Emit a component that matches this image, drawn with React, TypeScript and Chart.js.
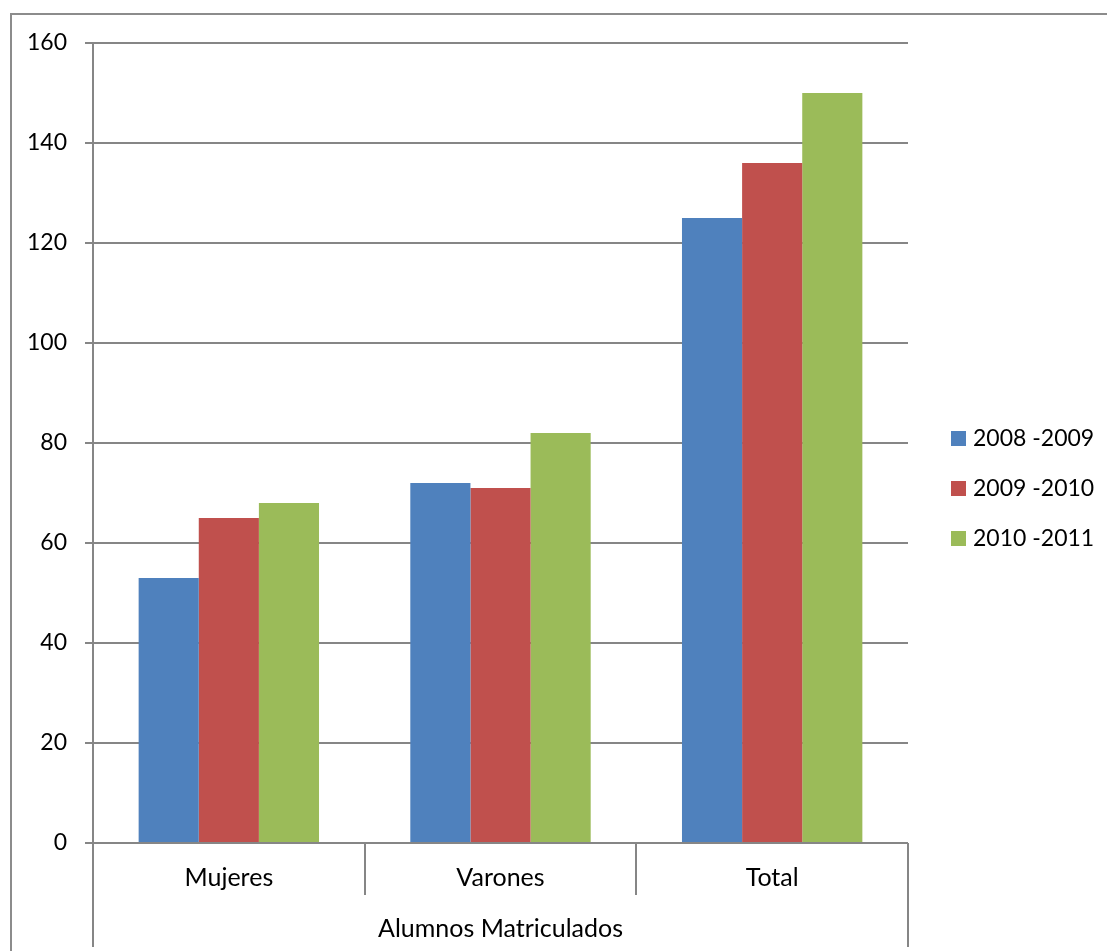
import React, { useEffect, useRef } from 'react';
import { Chart, registerables } from 'chart.js';

Chart.register(...registerables);

const categories = ['Mujeres', 'Varones', 'Total'];
const groupLabel = 'Alumnos Matriculados';
const seriesNames = ['2008 -2009', '2009 -2010', '2010 -2011'];
const values2008 = [53, 72, 125];
const values2009 = [65, 71, 136];
const values2010 = [68, 82, 150];
const yMin = 0;
const yMax = 160;
const yStep = 20;

const COLORS = ['#4F81BD', '#C0504D', '#9BBB59'];
const GRID = '#868686';
const FONT = 'Lato, "Open Sans", sans-serif';

export default function App() {
  const ref = useRef<HTMLCanvasElement | null>(null);

  useEffect(() => {
    if (!ref.current) return;
    const extras = {
      id: 'extras',
      afterDraw(chart: any) {
        const ctx = chart.ctx;
        const xs = chart.scales.x;
        ctx.save();
        ctx.strokeStyle = '#8c8c8c';
        ctx.lineWidth = 2;
        ctx.strokeRect(11, 14, 3000, 3000);
        ctx.strokeStyle = GRID;
        ctx.lineWidth = 2;
        const y0 = chart.chartArea.bottom;
        [xs.left, xs.right].forEach((x: number) => {
          ctx.beginPath();
          ctx.moveTo(x, y0);
          ctx.lineTo(x, y0 + 104);
          ctx.stroke();
        });
        ctx.fillStyle = '#000';
        ctx.font = `25px ${FONT}`;
        ctx.textAlign = 'center';
        ctx.textBaseline = 'middle';
        ctx.fillText(groupLabel, (xs.left + xs.right) / 2, y0 + 86);
        ctx.font = `23px ${FONT}`;
        ctx.textAlign = 'left';
        seriesNames.forEach((name, i) => {
          const cy = 438 + 50 * i;
          ctx.fillStyle = COLORS[i];
          ctx.fillRect(951, cy - 7, 15, 15);
          ctx.fillStyle = '#000';
          ctx.fillText(name, 973, cy + 1);
        });
        ctx.restore();
      },
    };

    const chart = new Chart(ref.current, {
      type: 'bar',
      data: {
        labels: categories,
        datasets: [values2008, values2009, values2010].map((d, i) => ({
          label: seriesNames[i],
          data: d,
          backgroundColor: COLORS[i],
          borderWidth: 0,
          categoryPercentage: 0.664,
          barPercentage: 1,
        })),
      },
      options: {
        animation: false,
        responsive: false,
        maintainAspectRatio: false,
        layout: { padding: { top: 43, right: 199, left: 0, bottom: 0 } },
        plugins: { legend: { display: false }, tooltip: { enabled: false } },
        scales: {
          x: {
            grid: {
              offset: true,
              drawOnChartArea: false,
              drawTicks: true,
              tickLength: 52,
              color: GRID,
              lineWidth: 2,
            },
            border: { display: false },
            ticks: {
              color: '#000',
              font: { family: FONT, size: 25 },
              padding: -32,
              maxRotation: 0,
            },
            afterFit: (s: any) => {
              s.height = 108;
            },
          } as any,
          y: {
            min: yMin,
            max: yMax,
            ticks: {
              stepSize: yStep,
              color: '#000',
              padding: 18,
              font: { family: FONT, size: 23 },
            },
            grid: { color: GRID, lineWidth: 2, tickLength: 8, drawTicks: true },
            border: { display: true, color: GRID, width: 2 },
            afterFit: (s: any) => {
              s.width = 93;
            },
          },
        },
      },
      plugins: [extras],
    });
    return () => chart.destroy();
  }, []);

  return (
    <div style={{ position: 'fixed', left: 0, top: 0, width: 1107, height: 951, background: '#fff' }}>
      <canvas ref={ref} width={1107} height={951} style={{ width: 1107, height: 951, display: 'block' }} />
    </div>
  );
}
